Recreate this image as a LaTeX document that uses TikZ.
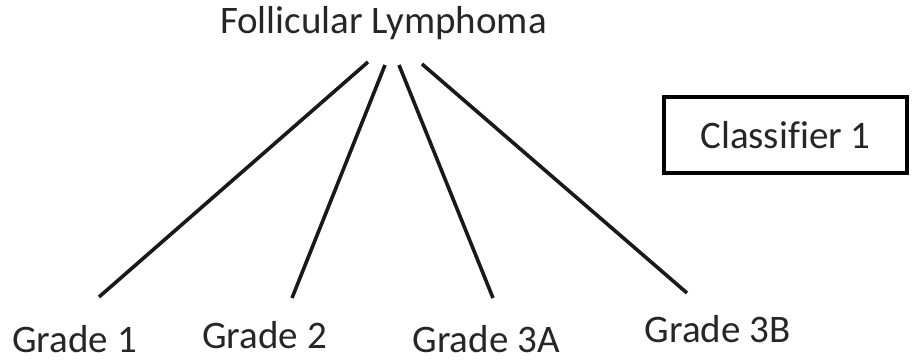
\documentclass[tikz,border=0pt]{standalone}
\usepackage{fontspec}
\setmainfont[Ligatures=NoCommon]{Carlito}
\usetikzlibrary{positioning}

\begin{document}
\begin{tikzpicture}[x=1pt,y=1pt,
  lbl/.style={inner sep=0pt,anchor=base,font=\fontsize{39}{41}\selectfont,text=black!85},
  branch/.style={line width=3.6pt,black!90},
  classbox/.style={draw,line width=3.6pt,minimum width=243.5pt,minimum height=76.5pt,font=\fontsize{39}{41}\selectfont,text=black!85}]
  \useasboundingbox (0,0) rectangle (915,360);
  % title and leaves
  \node[lbl] (fl) at (383.5,327) {Follicular Lymphoma};
  \node[lbl] (g1) at (74.5,8) {Grade 1};
  \node[lbl] (g2) at (264.5,12) {Grade 2};
  \node[lbl] (g3a) at (486,8) {Grade 3A};
  \node[lbl] (g3b) at (717.5,18) {Grade 3B};
  \node[classbox] (cl) at (785.5,225) {Classifier 1};
  % branch ends
  \coordinate (t1) at (368,298);
  \coordinate (t2) at (385,295);
  \coordinate (t3) at (399,295);
  \coordinate (t4) at (422,296);
  \coordinate (b1) at (99,63);
  \coordinate (b2) at (292,62);
  \coordinate (b3) at (493,62);
  \coordinate (b4) at (687,67);
  \draw[branch] (t1) -- (b1);
  \draw[branch] (t2) -- (b2);
  \draw[branch] (t3) -- (b3);
  \draw[branch] (t4) -- (b4);
\end{tikzpicture}
\end{document}
